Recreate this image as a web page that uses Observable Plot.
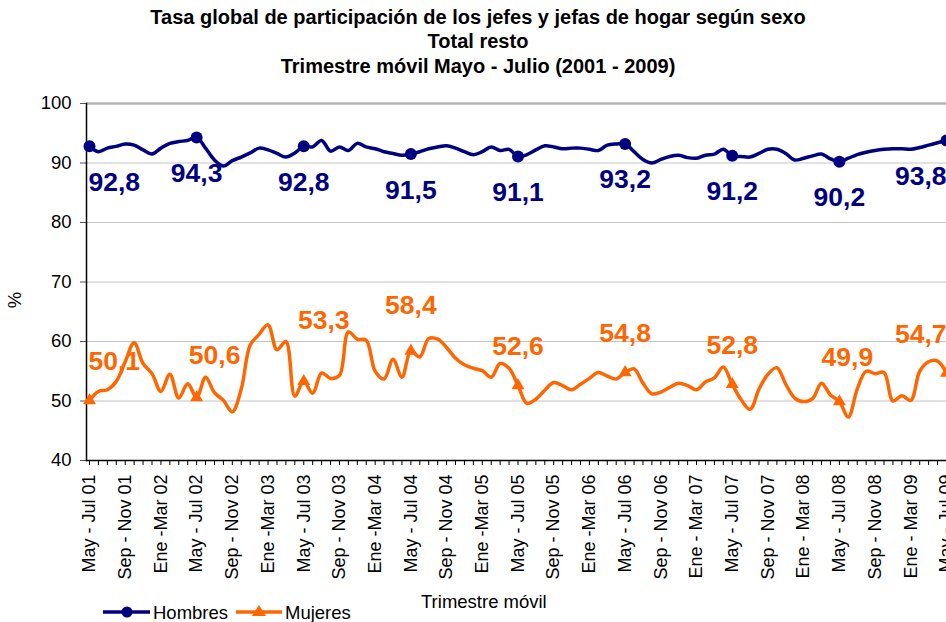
<!DOCTYPE html>
<html>
<head>
<meta charset="utf-8">
<script src="https://cdn.jsdelivr.net/npm/d3@7"></script>
<script src="https://cdn.jsdelivr.net/npm/@observablehq/plot@0.6"></script>
<style>
  body { margin: 0; background: #fff; font-family: "Liberation Sans", Arial, sans-serif; }
  #wrap { position: relative; width: 946px; height: 622px; overflow: hidden; }
  #chart { position: absolute; left: 0; top: 0; }
  .title { position: absolute; left: 0; width: 956px; text-align: center; font-weight: bold; font-size: 20px; line-height: 23px; color: #000; }
  .lab { position: absolute; font-size: 18.5px; color: #000; white-space: nowrap; }
</style>
</head>
<body>
<div id="wrap">
  <div id="chart"></div>
  <div class="title" style="top:6px">Tasa global de participación de los jefes y jefas de hogar según sexo</div>
  <div class="title" style="top:30px">Total resto</div>
  <div class="title" style="top:55px">Trimestre móvil Mayo - Julio (2001 - 2009)</div>
  <div class="lab" style="left:7px; top:289px; transform: rotate(-90deg); transform-origin: center;">%</div>
  <div class="lab" style="left:421px; top:591px;">Trimestre móvil</div>
  <svg style="position:absolute; left:0; top:600px" width="400" height="22">
    <line x1="103" x2="150" y1="12" y2="12" stroke="#000080" stroke-width="3.5"/>
    <circle cx="127" cy="12" r="5.5" fill="#000080"/>
    <text x="153" y="18.5" font-size="18.5" font-family="Liberation Sans, Arial, sans-serif">Hombres</text>
    <line x1="236" x2="282" y1="12" y2="12" stroke="#FF6600" stroke-width="3.5"/>
    <path d="M259,5 L266,16 L252,16 Z" fill="#FF6600"/>
    <text x="285" y="18.5" font-size="18.5" font-family="Liberation Sans, Arial, sans-serif">Mujeres</text>
  </svg>
</div>
<script>
// Category labels (every 4th moving quarter is labelled)
const xLabels = [
  "May - Jul 01", "Sep - Nov 01", "Ene -Mar 02",
  "May - Jul 02", "Sep - Nov 02", "Ene -Mar 03",
  "May - Jul 03", "Sep - Nov 03", "Ene -Mar 04",
  "May - Jul 04", "Sep - Nov 04", "Ene -Mar 05",
  "May - Jul 05", "Sep - Nov 05", "Ene -Mar 06",
  "May - Jul 06", "Sep - Nov 06", "Ene - Mar 07",
  "May - Jul 07", "Sep - Nov 07", "Ene - Mar 08",
  "May - Jul 08", "Sep - Nov 08", "Ene - Mar 09",
  "May - Jul 09"
];

// Monthly moving-quarter values, May-Jul 2001 .. May-Jul 2009 (97 points)
const hombres = [
  92.8, 91.9, 92.5, 92.8, 93.2, 93.0, 92.2, 91.5, 92.5, 93.3, 93.6, 93.8,
  94.3, 92.5, 90.5, 89.5, 90.4, 91.0, 91.7, 92.5, 92.2, 91.6, 91.0, 91.7,
  92.8, 92.7, 93.8, 92.0, 92.7, 92.1, 93.3, 92.7, 92.4, 91.9, 91.6, 91.3,
  91.5, 91.9, 92.4, 92.7, 92.9, 92.5, 91.9, 91.4, 91.9, 92.7, 92.1, 92.3,
  91.1, 91.4, 92.2, 92.9, 92.7, 92.4, 92.5, 92.5, 92.3, 92.1, 93.0, 93.2,
  93.2, 91.9, 90.6, 90.0, 90.6, 91.1, 91.3, 90.9, 90.8, 91.3, 91.5, 92.3,
  91.2, 91.1, 91.0, 91.6, 92.3, 92.3, 91.6, 90.5, 90.8, 91.2, 91.5, 90.7,
  90.2, 90.8, 91.4, 91.8, 92.1, 92.3, 92.4, 92.4, 92.3, 92.6, 93.0, 93.4,
  93.8
];
const mujeres = [
  50.1, 51.6, 51.9, 53.3, 56.6, 59.8, 56.3, 54.6, 51.6, 54.5, 50.5, 52.9,
  50.6, 54.0, 51.4, 50.1, 48.2, 52.0, 59.4, 61.2, 62.8, 58.6, 60.0, 50.8,
  53.3, 51.3, 54.7, 53.8, 54.3, 61.6, 60.4, 60.2, 55.0, 53.7, 57.0, 54.0,
  58.4, 57.4, 60.5, 60.4, 59.0, 57.2, 56.1, 55.5, 55.1, 54.0, 56.3, 55.5,
  52.6, 49.6, 50.3, 51.8, 53.1, 52.6, 51.9, 52.8, 53.8, 54.8, 54.2, 53.7,
  54.8, 55.4, 53.0, 51.2, 51.5, 52.3, 53.0, 52.6, 51.9, 53.2, 53.9, 55.7,
  52.8, 50.2, 48.6, 52.0, 54.5, 55.6, 52.8, 50.5, 49.9, 50.4, 53.0, 51.0,
  49.9, 47.3, 52.0, 55.0, 54.6, 54.8, 50.0, 50.9, 50.1, 55.0, 56.6, 56.7,
  54.7
];
const yTicks = [40, 50, 60, 70, 80, 90, 100];

const navy = "#000080", orange = "#FF6600";
const H = hombres.map((v, i) => ({i, v}));
const M = mujeres.map((v, i) => ({i, v}));
const yearly = d => d.i % 12 === 0;
const fmt = v => v.toFixed(1).replace(".", ",");
const n = hombres.length - 1;

// label placement tweaks (pixel nudges for the hand-placed data labels)
const nudgeM = {12: [18, -3], 24: [20, -22], 36: [0, -7], 84: [8, -5]};

function labels(data, color, dy, nudges = {}) {
  return data.filter(yearly).map(d => {
    const [ndx, ndy] = nudges[d.i] || [0, 0];
    return Plot.text([d], {
      x: "i", y: "v", text: p => fmt(p.v),
      dx: ndx + (d.i === 0 ? -1 : 0), dy: dy + ndy,
      textAnchor: d.i === 0 ? "start" : d.i === n ? "end" : "middle",
      fill: color, fontSize: 26.5, fontWeight: "bold"
    });
  });
}

const chart = Plot.plot({
  width: 946,
  height: 622,
  marginLeft: 86,
  marginRight: 0,
  marginTop: 103,
  marginBottom: 162,
  style: {fontFamily: "Liberation Sans, Arial, sans-serif", background: "transparent"},
  x: {domain: [0, n], range: [89, 946]},
  y: {domain: [40, 100]},
  marks: [
    Plot.ruleY(yTicks.filter(t => t > 40 && t < 100), {stroke: "#c4c4c4", strokeWidth: 1}),
    Plot.ruleY([100], {stroke: "#b4b4b4", strokeWidth: 2.5}),
    Plot.axisY({ticks: yTicks, tickSize: 6, tickPadding: 9, fontSize: 18.5, stroke: "#555", fill: "#000", label: null}),
    Plot.axisX({ticks: d3.range(0, n + 1), tickSize: 5, tickFormat: () => "", stroke: "#000", label: null}),
    Plot.axisX({ticks: d3.range(0, n + 1, 4), tickSize: 0, tickPadding: 14, tickRotate: -90, fontSize: 18, fill: "#000",
      tickFormat: i => xLabels[i / 4], label: null}),
    Plot.frame({anchor: "left", stroke: "#000", strokeWidth: 1.5}),
    Plot.frame({anchor: "bottom", stroke: "#000", strokeWidth: 1.5}),
    Plot.line(H, {x: "i", y: "v", stroke: navy, strokeWidth: 3.5, curve: "catmull-rom"}),
    Plot.line(M, {x: "i", y: "v", stroke: orange, strokeWidth: 3.5, curve: "catmull-rom"}),
    Plot.dot(H.filter(yearly), {x: "i", y: "v", r: 6, fill: navy, symbol: "circle"}),
    Plot.dot(M.filter(yearly), {x: "i", y: "v", r: 4.8, fill: orange, symbol: "triangle"}),
    ...labels(H, navy, 36),
    ...labels(M, orange, -39, nudgeM)
  ]
});
document.getElementById("chart").appendChild(chart);
</script>
</body>
</html>
